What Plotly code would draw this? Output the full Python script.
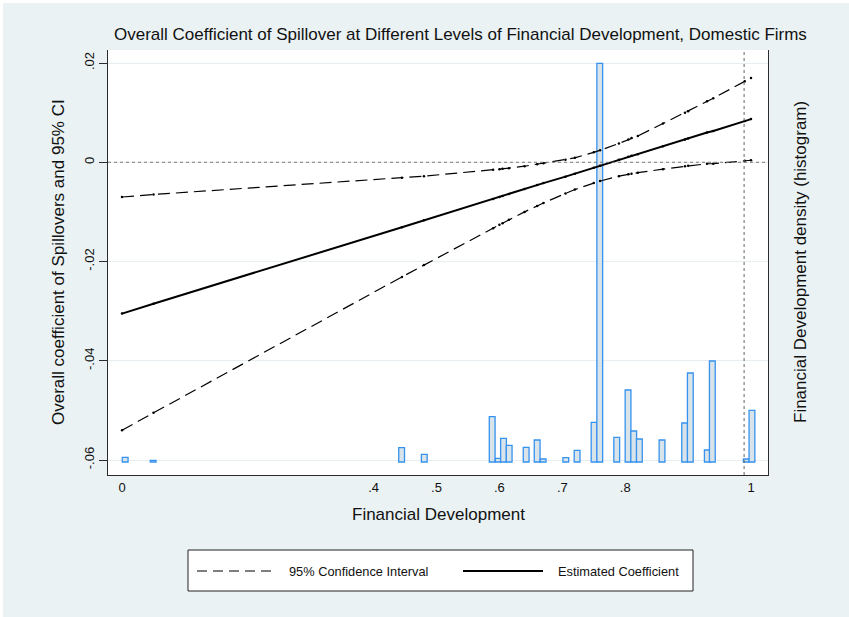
import plotly.graph_objects as go

# Financial-development values at which the marginal effect is evaluated
fd_grid = [0.0, 0.05, 0.445, 0.48, 0.59, 0.60, 0.605, 0.615, 0.64, 0.66, 0.67,
           0.705, 0.72, 0.75, 0.76, 0.79, 0.805, 0.81, 0.82, 0.86, 0.895, 0.90,
           0.93, 0.94, 0.99, 1.0]

# Estimated overall spillover coefficient and its 95% confidence bounds
coef = [-0.0305, -0.0285, -0.0131, -0.0117, -0.0074, -0.0070, -0.0068, -0.0064,
        -0.0054, -0.0046, -0.0042, -0.0029, -0.0023, -0.0011, -0.0007, 0.0005,
        0.0011, 0.0013, 0.0016, 0.0032, 0.0046, 0.0048, 0.0060, 0.0063, 0.0083,
        0.0087]
ci_lo = [-0.0540, -0.0505, -0.0231, -0.0207, -0.0133, -0.0126, -0.0123, -0.0116,
         -0.0100, -0.0088, -0.0082, -0.0063, -0.0055, -0.0042, -0.0038, -0.0028,
         -0.0024, -0.0023, -0.0021, -0.0014, -0.0008, -0.0007, -0.0003, -0.0003,
         0.0003, 0.0004]
ci_hi = [-0.0070, -0.0065, -0.0031, -0.0028, -0.0015, -0.0014, -0.0013, -0.0012,
         -0.0008, -0.0004, -0.0002, 0.0005, 0.0009, 0.0020, 0.0024, 0.0038,
         0.0046, 0.0049, 0.0053, 0.0078, 0.0100, 0.0103, 0.0123, 0.0129, 0.0163,
         0.0170]

# Histogram of financial development (bin midpoints and densities)
hist_mid = [0.005, 0.0495, 0.4445, 0.4805, 0.5885, 0.598, 0.6065, 0.6155,
            0.6425, 0.66, 0.6695, 0.7055, 0.7235, 0.7505, 0.7595, 0.7865,
            0.8045, 0.8135, 0.8225, 0.8585, 0.8945, 0.9035, 0.9305, 0.9385,
            0.9925, 1.0015]
hist_density = [0.47, 0.17, 1.43, 0.77, 4.53, 0.37, 2.37, 1.67, 1.47, 2.2, 0.3,
                0.43, 1.17, 3.97, 39.87, 2.47, 7.2, 3.1, 2.3, 2.2, 3.9, 8.9, 1.2,
                10.1, 0.3, 5.17]
BIN_W = 0.0092

x_ticks = [0, 0.4, 0.5, 0.6, 0.7, 0.8, 1]
x_tick_text = ["0", ".4", ".5", ".6", ".7", ".8", "1"]
y_ticks = [-0.06, -0.04, -0.02, 0, 0.02]
y_tick_text = ["-.06", "-.04", "-.02", "0", ".02"]

FD_MAX_LINE = 0.989

FONT = "Liberation Sans, Arial, Helvetica, sans-serif"
BG = "#EAF2F3"
AXIS = "#2b2b2b"
TXT = "#111111"

W, H = 849, 617
L, R, T, B = 108, 81, 50, 142
PW, PH = W - L - R, H - T - B


def px(p):
    return (p - L) / PW


def py(p):
    return (H - B - p) / PH


def label(text, x, y, size, angle=0, xanchor="center"):
    return dict(text=text, xref="paper", yref="paper", x=px(x), y=py(y),
                xanchor=xanchor, yanchor="middle", textangle=angle,
                showarrow=False, font=dict(family=FONT, size=size, color=TXT))


fig = go.Figure()

fig.add_trace(go.Bar(
    x=hist_mid, y=hist_density, width=BIN_W, yaxis="y",
    marker=dict(color="#D8E3EA", line=dict(color="#3592EE", width=1.3)),
    showlegend=False, hoverinfo="skip",
))

for bound in (ci_lo, ci_hi):
    fig.add_trace(go.Scatter(
        x=fd_grid, y=bound, yaxis="y2", mode="lines+markers",
        line=dict(color="black", width=1.2, dash="12px,6px"),
        marker=dict(color="black", size=2.5),
        showlegend=False,
    ))

fig.add_trace(go.Scatter(
    x=fd_grid, y=coef, yaxis="y2", mode="lines+markers",
    line=dict(color="black", width=2),
    marker=dict(color="black", size=2.5),
    showlegend=False,
))

shapes = [
    # reference lines
    dict(type="line", xref="x", yref="paper", x0=FD_MAX_LINE, x1=FD_MAX_LINE,
         y0=0, y1=1, line=dict(color="#666666", width=1, dash="dot")),
    dict(type="line", xref="paper", yref="y2", x0=0, x1=1, y0=0, y1=0,
         line=dict(color="#777777", width=1, dash="dot")),
    # thin white frame on the top and left edges
    dict(type="rect", xref="paper", yref="paper", x0=px(-2), x1=px(W + 2),
         y0=py(-2), y1=py(3), fillcolor="white", line=dict(width=0)),
    dict(type="rect", xref="paper", yref="paper", x0=px(-2), x1=px(3),
         y0=py(-2), y1=py(H + 2), fillcolor="white", line=dict(width=0)),
    # legend box
    dict(type="rect", xref="paper", yref="paper", x0=px(188), x1=px(693),
         y0=py(550), y1=py(591), fillcolor="white",
         line=dict(color="#222222", width=1)),
    dict(type="line", xref="paper", yref="paper", x0=px(197), x1=px(277),
         y0=py(571), y1=py(571),
         line=dict(color="black", width=1.2, dash="10px,6px")),
    dict(type="line", xref="paper", yref="paper", x0=px(463), x1=px(543),
         y0=py(571), y1=py(571), line=dict(color="black", width=2)),
]

annotations = [
    label("Overall Coefficient of Spillover at Different Levels of Financial Development, Domestic Firms",
          461, 35, 17),
    label("Financial Development", 438, 514, 17),
    label("Overall coefficient of Spillovers and 95% CI", 58, 262, 17, angle=-90),
    label("Financial Development density (histogram)", 800, 262, 17, angle=-90),
    label("95% Confidence Interval", 287, 571, 12.8, xanchor="left"),
    label("Estimated Coefficient", 556, 571, 12.8, xanchor="left"),
]

fig.update_layout(
    width=W, height=H,
    margin=dict(l=L, r=R, t=T, b=B, pad=0),
    paper_bgcolor=BG, plot_bgcolor="white",
    font=dict(family=FONT, size=13, color=TXT),
    showlegend=False,
    shapes=shapes, annotations=annotations,
    xaxis=dict(range=[-0.0223, 1.027], tickvals=x_ticks, ticktext=x_tick_text,
               showgrid=False, zeroline=False, showline=True, linecolor=AXIS,
               linewidth=1, ticks="", tickfont=dict(size=13)),
    yaxis=dict(range=[-1.3, 41.2], side="right", showticklabels=False,
               showgrid=False, zeroline=False, showline=True, linecolor=AXIS,
               linewidth=1, ticks=""),
    yaxis2=dict(range=[-0.06302, 0.02262], overlaying="y", side="left",
                tickvals=y_ticks, ticktext=y_tick_text, tickangle=-90,
                ticks="outside", ticklen=8, tickcolor=AXIS,
                showgrid=True, gridcolor="#E6EEF1", gridwidth=1,
                zeroline=False, showline=True, linecolor=AXIS, linewidth=1,
                tickfont=dict(size=13)),
)

fig.write_html("out.html")
